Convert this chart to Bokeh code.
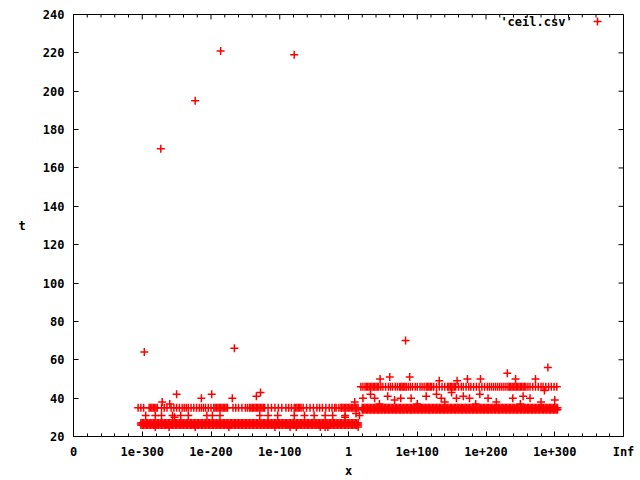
from bokeh.plotting import figure
from bokeh.models import (Range1d, SingleIntervalTicker, Label,
                          Legend, LegendItem)
from bokeh.embed import file_html
from bokeh.resources import INLINE

# ---------------- data (x given as decimal exponent, t = time) ----------------
X_TICK_LABELS = {-400: "0", -300: "1e-300", -200: "1e-200", -100: "1e-100",
                 0: "1", 100: "1e+100", 200: "1e+200", 300: "1e+300", 400: "Inf"}

# dense band below 1 (t = 26 and 27)
BAND_A_X = [-302, -300, -298, -296, -294, -292, -290, -288, -286, -284, -282, -280, -278, -276, -274, -272, -270, -268, -266, -264,
            -262, -260, -258, -256, -254, -252, -250, -248, -246, -244, -242, -240, -238, -236, -234, -232, -230, -228, -226, -224,
            -222, -220, -218, -216, -214, -212, -210, -208, -206, -204, -202, -200, -198, -196, -194, -192, -190, -188, -186, -184,
            -182, -180, -178, -176, -174, -172, -170, -168, -166, -164, -162, -160, -158, -156, -154, -152, -150, -148, -146, -144,
            -142, -140, -138, -136, -134, -132, -130, -128, -126, -124, -122, -120, -118, -116, -114, -112, -110, -108, -106, -104,
            -102, -100, -98, -96, -94, -92, -90, -88, -86, -84, -82, -80, -78, -76, -74, -72, -70, -68, -66, -64,
            -62, -60, -58, -56, -54, -52, -50, -48, -46, -44, -42, -40, -38, -36, -34, -32, -30, -28, -26, -24,
            -22, -20, -18, -16, -14, -12, -10, -8, -6, -4, -2, 0, 2, 4, 6, 8, 10, 12, 14]
BAND_A_T1 = 26
BAND_A_T2 = 27

# a few points just under the low band
LOW_X = [-281, -261, -223, -174, -107, -85, -76, -41, -34, -30, 14]
LOW_T = 25

# band below 1 at t = 35 (with gaps)
BAND_B_X = [-306, -302, -298,
            -290, -288, -286, -284, -282, -280, -278,
            -272, -268, -264,
            -258, -254, -250, -246,
            -242, -239, -236, -233,
            -229, -225, -221, -217, -214,
            -211, -208, -204, -200,
            -196, -194, -192, -190, -188, -186, -184, -182, -180, -178, -176,
            -168, -164, -160, -155, -150, -147,
            -144, -142, -140, -138, -136, -134, -132, -130, -128, -126, -124, -122,
            -117, -112, -107, -102, -97,
            -91, -87, -83,
            -79, -77, -75, -73, -71, -69,
            -66, -61, -56, -51, -46,
            -42, -38, -33, -28, -24, -20,
            -18, -14, -11,
            -10, -8, -6, -4, -2, 0, 2, 4, 6, 8, 10, 12, 14]
BAND_B_T = 35

# dense band above 1 (t = 34 and 35)
BAND_C_X = [20, 22, 24, 26, 28, 30, 32, 34, 36, 38, 40, 42, 44, 46, 48, 50, 52, 54, 56, 58,
            60, 62, 64, 66, 68, 70, 72, 74, 76, 78, 80, 82, 84, 86, 88, 90, 92, 94, 96, 98,
            100, 102, 104, 106, 108, 110, 112, 114, 116, 118, 120, 122, 124, 126, 128, 130, 132, 134, 136, 138,
            140, 142, 144, 146, 148, 150, 152, 154, 156, 158, 160, 162, 164, 166, 168, 170, 172, 174, 176, 178,
            180, 182, 184, 186, 188, 190, 192, 194, 196, 198, 200, 202, 204, 206, 208, 210, 212, 214, 216, 218,
            220, 222, 224, 226, 228, 230, 232, 234, 236, 238, 240, 242, 244, 246, 248, 250, 252, 254, 256, 258,
            260, 262, 264, 266, 268, 270, 272, 274, 276, 278, 280, 282, 284, 286, 288, 290, 292, 294, 296, 298,
            300, 302, 304]
BAND_C_T1 = 34
BAND_C_T2 = 35

# band above 1 at t = 46 (with gaps)
BAND_D_X = [18, 21, 24, 26, 28, 30, 32, 34, 36, 38, 40, 42, 44, 47, 50, 54, 58, 61, 64, 68,
            71, 74, 76, 78, 80, 82, 84, 87, 90, 93, 97, 100, 104, 107, 110, 113, 115, 117, 119, 121,
            124, 128, 132, 136, 140, 144, 146, 148, 150, 152, 154, 156, 160, 164, 167, 171, 175, 178, 182, 186,
            190, 194, 198, 202, 205, 208, 211, 214, 217, 220, 223, 226, 229, 232, 234, 236, 238, 240, 242, 244,
            246, 248, 250, 252, 254, 256, 258, 261, 264, 268, 272, 276, 280, 283, 287, 291, 295, 299, 303]
BAND_D_T = 46

# scattered individual measurements
SCATTER_X = [-297, -166, -273, -223, -186, -79,
             -250, -199, -128, -134, -214, -169, -271, -260,
             -295, -281, -272, -256, -244, -233, -253, -206, -198, -187,
             -129, -117, -103, -79, -64, -50, -34, -23, -5,
             -5, 9, 11, 16,
             83, 290, 231, 46, 60, 89, 132, 158, 173, 192, 243, 272,
             21, 32, 38, 57, 67, 76, 91, 113, 128, 135, 150, 157, 167, 176, 191, 203, 239, 254, 264, 285, 300,
             45, 100, 140, 185, 215, 250, 280]
SCATTER_T = [64, 66, 170, 195, 221, 219,
             42, 42, 43, 41, 40, 40, 38, 37,
             31, 31, 31, 31, 31, 31, 30, 31, 31, 31,
             31, 31, 31, 31, 31, 31, 31, 31, 31,
             30, 38, 32, 31,
             70, 56, 53, 50, 51, 51, 49, 49, 50, 50, 50, 50,
             40, 42, 40, 41, 39, 40, 40, 41, 42, 40, 43, 40, 41, 40, 42, 40, 40, 41, 40, 44, 39,
             37, 37, 38, 37, 38, 37, 38]

SERIES_NAME = "'ceil.csv'"
X_LABEL = "x"
Y_LABEL = "t"
X_MIN, X_MAX = -400, 400
Y_MIN, Y_MAX = 20, 240
Y_TICK_STEP = 20
X_TICK_STEP = 100
X_MINOR_STEP = 20

# ---------------- styling ----------------
RED = "#ff0000"
FONT = "DejaVu Sans Mono"
FS = "12px"
W, H = 640, 480
BL, BR, BT, BB = 73, 17, 14, 42
FRAME_W = W - BL - BR
FRAME_H = H - BT - BB
MAJ, MIN = 5, 3   # inward tick lengths in px

p = figure(width=W, height=H, output_backend="svg", toolbar_location=None,
           x_range=Range1d(X_MIN, X_MAX), y_range=Range1d(Y_MIN, Y_MAX),
           min_border_left=BL, min_border_right=BR, min_border_top=BT,
           min_border_bottom=BB)
p.background_fill_color = "white"
p.border_fill_color = "white"
p.outline_line_color = "black"
p.outline_line_width = 1
p.grid.visible = False


def style_axis(ax):
    ax.axis_line_color = "black"
    ax.major_tick_line_color = "black"
    ax.minor_tick_line_color = "black"
    ax.major_tick_in = MAJ
    ax.major_tick_out = 0
    ax.minor_tick_in = MIN
    ax.minor_tick_out = 0
    ax.major_label_text_font = FONT
    ax.major_label_text_font_size = FS
    ax.major_label_text_font_style = "bold"
    ax.major_label_text_color = "black"
    ax.axis_label_text_font = FONT
    ax.axis_label_text_font_size = FS
    ax.axis_label_text_font_style = "bold"
    ax.axis_label_text_color = "black"


xb = p.xaxis[0]
xb.ticker = SingleIntervalTicker(interval=X_TICK_STEP, num_minor_ticks=X_TICK_STEP // X_MINOR_STEP)
xb.major_label_overrides = X_TICK_LABELS
style_axis(xb)
xb.major_label_standoff = 8
xb.axis_label = X_LABEL
xb.axis_label_standoff = 2

yl = p.yaxis[0]
yl.ticker = SingleIntervalTicker(interval=Y_TICK_STEP, num_minor_ticks=0)
style_axis(yl)
yl.major_label_standoff = 9
yl.axis_label = Y_LABEL
if "axis_label_orientation" in type(yl).properties():
    yl.axis_label_orientation = "horizontal"
    yl.axis_label_standoff = 14
else:
    yl.axis_label_standoff = 11

# mirrored ticks on the top and right borders (gnuplot "mirror")
ux = (X_MAX - X_MIN) / FRAME_W   # data units per px
uy = (Y_MAX - Y_MIN) / FRAME_H
top_major = list(range(X_MIN, X_MAX + 1, X_TICK_STEP))
top_minor = [v for v in range(X_MIN, X_MAX + 1, X_MINOR_STEP) if v % X_TICK_STEP]
right_major = list(range(Y_MIN, Y_MAX + 1, Y_TICK_STEP))
p.segment(x0=top_major, x1=top_major, y0=Y_MAX, y1=Y_MAX - MAJ * uy,
          line_color="black", line_width=1)
p.segment(x0=top_minor, x1=top_minor, y0=Y_MAX, y1=Y_MAX - MIN * uy,
          line_color="black", line_width=1)
p.segment(x0=X_MAX, x1=X_MAX - MAJ * ux, y0=right_major, y1=right_major,
          line_color="black", line_width=1)

mk = dict(marker="cross", size=8, line_color=RED, line_width=1.5)
r_a1 = p.scatter(x=BAND_A_X, y=BAND_A_T1, **mk)
p.scatter(x=BAND_A_X, y=BAND_A_T2, **mk)
p.scatter(x=LOW_X, y=LOW_T, **mk)
p.scatter(x=BAND_B_X, y=BAND_B_T, **mk)
p.scatter(x=BAND_C_X, y=BAND_C_T1, **mk)
p.scatter(x=BAND_C_X, y=BAND_C_T2, **mk)
p.scatter(x=BAND_D_X, y=BAND_D_T, **mk)
p.scatter(x=SCATTER_X, y=SCATTER_T, **mk)

# key: text then sample, as in gnuplot
legend = Legend(items=[LegendItem(label=" ", renderers=[r_a1])],
                location=(514, 405), padding=0, margin=0, spacing=0,
                glyph_width=20, glyph_height=20, label_width=0, label_height=20,
                label_standoff=0, label_text_font_size="1px",
                background_fill_alpha=0, border_line_color=None)
p.add_layout(legend)

p.add_layout(Label(x=326, y=236, text=SERIES_NAME, text_align="right",
                   text_baseline="middle", text_font=FONT, text_font_size=FS,
                   text_font_style="bold", text_color="black"))

open("out.html", "w").write(file_html(p, INLINE))
